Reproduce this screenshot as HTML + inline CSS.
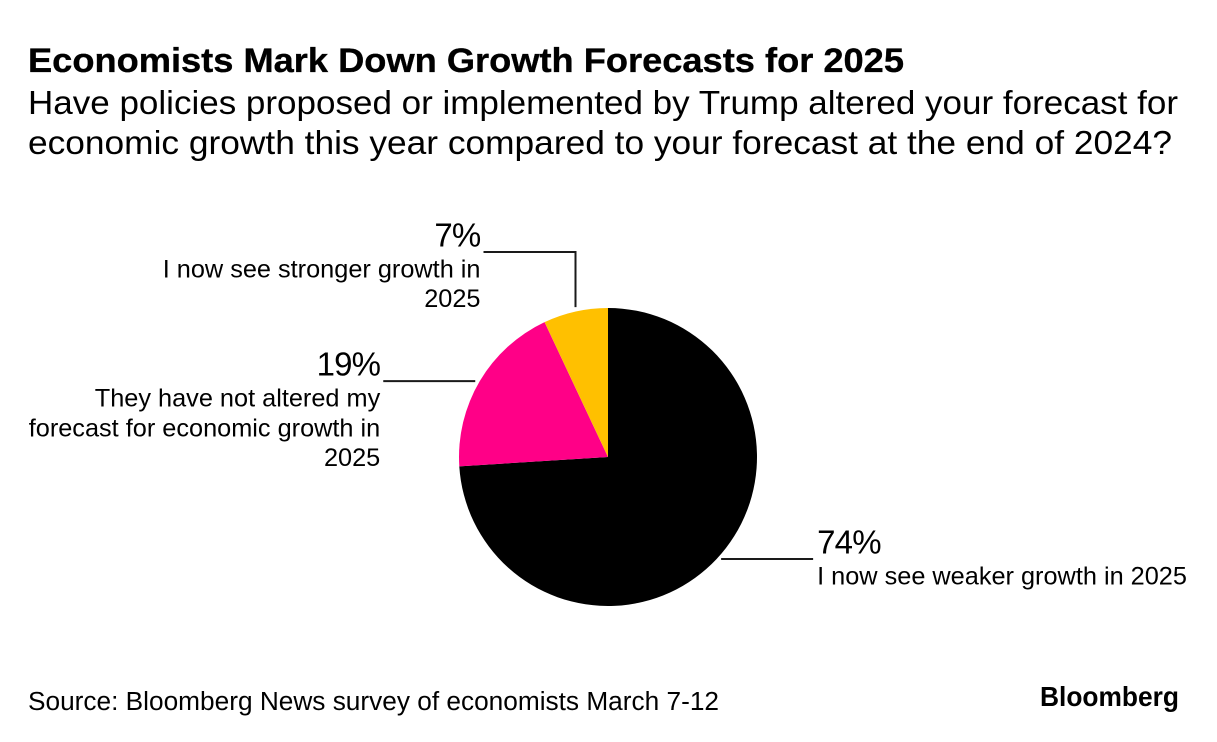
<!DOCTYPE html>
<html lang="en">
<head>
<meta charset="utf-8">
<title>Economists Mark Down Growth Forecasts for 2025</title>
<style>
html,body{margin:0;padding:0;background:#fff;}
body{width:1217px;height:742px;overflow:hidden;}
svg{display:block;}
text{font-family:"Liberation Sans",sans-serif;fill:#000;}
</style>
</head>
<body>
<svg id="chart" width="1217" height="742" viewBox="0 0 1217 742" xmlns="http://www.w3.org/2000/svg">
  <text x="28" y="72" font-size="34.5" font-weight="700" stroke="#000" stroke-width="0.35" textLength="876" lengthAdjust="spacingAndGlyphs">Economists Mark Down Growth Forecasts for 2025</text>
  <text x="28" y="114" font-size="33" textLength="1150" lengthAdjust="spacingAndGlyphs">Have policies proposed or implemented by Trump altered your forecast for</text>
  <text x="28" y="154" font-size="33" textLength="1144" lengthAdjust="spacingAndGlyphs">economic growth this year compared to your forecast at the end of 2024?</text>
  <g id="leaders"></g>
  <g id="slices"></g>
  <g id="labels"></g>
  <text x="28" y="710" font-size="25.5" textLength="691" lengthAdjust="spacingAndGlyphs">Source: Bloomberg News survey of economists March 7-12</text>
  <text x="1040" y="706" font-size="28" font-weight="700" textLength="139" lengthAdjust="spacingAndGlyphs">Bloomberg</text>
</svg>
<script>
// Chart data
const categories = ["I now see weaker growth in 2025", "They have not altered my forecast for economic growth in 2025", "I now see stronger growth in 2025"];
const values = [74, 19, 7];
const categoryLines = [
  ["I now see weaker growth in 2025"],
  ["They have not altered my", "forecast for economic growth in", "2025"],
  ["I now see stronger growth in", "2025"]
];
const sliceColors = ["#000000", "#ff0087", "#ffc000"];
const sliceNames = ["weaker-growth", "not-altered", "stronger-growth"];

// Geometry
const NS = "http://www.w3.org/2000/svg";
const cx = 608, cy = 457, r = 149;
const total = values.reduce(function (a, b) { return a + b; }, 0);
const leaderLength = 92, leaderGap = 4.5, topRise = 56;

function angleOf(v) { return v / total * 2 * Math.PI; }
function px(a, rad) { return cx + rad * Math.sin(a); }
function py(a, rad) { return cy - rad * Math.cos(a); }

const sliceGroup = document.getElementById("slices");
const leaderGroup = document.getElementById("leaders");
const labelGroup = document.getElementById("labels");

let running = 0;
values.forEach(function (v, i) {
  const a0 = angleOf(running);
  const a1 = angleOf(running + v);
  const mid = (a0 + a1) / 2;
  running += v;

  // Slice
  const path = document.createElementNS(NS, "path");
  const large = (a1 - a0) > Math.PI ? 1 : 0;
  path.setAttribute("d", "M" + cx + " " + cy + " L" + px(a0, r) + " " + py(a0, r) +
    " A" + r + " " + r + " 0 " + large + " 1 " + px(a1, r) + " " + py(a1, r) + " Z");
  path.setAttribute("fill", sliceColors[i]);
  
  
  sliceGroup.appendChild(path);

  // Leader line from the slice's rim midpoint
  const ax = px(mid, r), ay = py(mid, r);
  const isRight = Math.sin(mid) > 0;
  const nearTop = Math.abs(Math.sin(mid)) < 0.5 && Math.cos(mid) > 0;
  const dir = isRight ? 1 : -1;
  let d, lineY, endX;
  if (nearTop) {
    lineY = cy - r - topRise;
    endX = ax + dir * leaderLength;
    d = "M" + ax + " " + (ay - leaderGap) + " V" + lineY + " H" + endX;
  } else {
    lineY = ay;
    const startX = ax + dir * leaderGap;
    endX = startX + dir * leaderLength;
    d = "M" + startX + " " + lineY + " H" + endX;
  }
  const leader = document.createElementNS(NS, "path");
  leader.setAttribute("d", d);
  leader.setAttribute("fill", "none");
  leader.setAttribute("stroke", "#1a1a1a");
  leader.setAttribute("stroke-width", "2");
  
  
  leaderGroup.appendChild(leader);

  // Labels
  const textX = endX + dir * (isRight ? 4 : 3);
  const anchor = isRight ? "start" : "end";
  const pct = document.createElementNS(NS, "text");
  pct.textContent = v + "%";
  pct.setAttribute("x", textX);
  pct.setAttribute("y", lineY - 5.5);
  pct.setAttribute("font-size", "33");
  pct.setAttribute("letter-spacing", "-0.8");
  pct.setAttribute("text-anchor", anchor);
  
  
  labelGroup.appendChild(pct);

  categoryLines[i].forEach(function (line, j) {
    const t = document.createElementNS(NS, "text");
    t.textContent = line;
    t.setAttribute("x", textX);
    t.setAttribute("y", lineY + 25.5 + j * 29.6);
    t.setAttribute("font-size", "25.3");
    t.setAttribute("text-anchor", anchor);
    
    
    labelGroup.appendChild(t);
  });
});
</script>
</body>
</html>
